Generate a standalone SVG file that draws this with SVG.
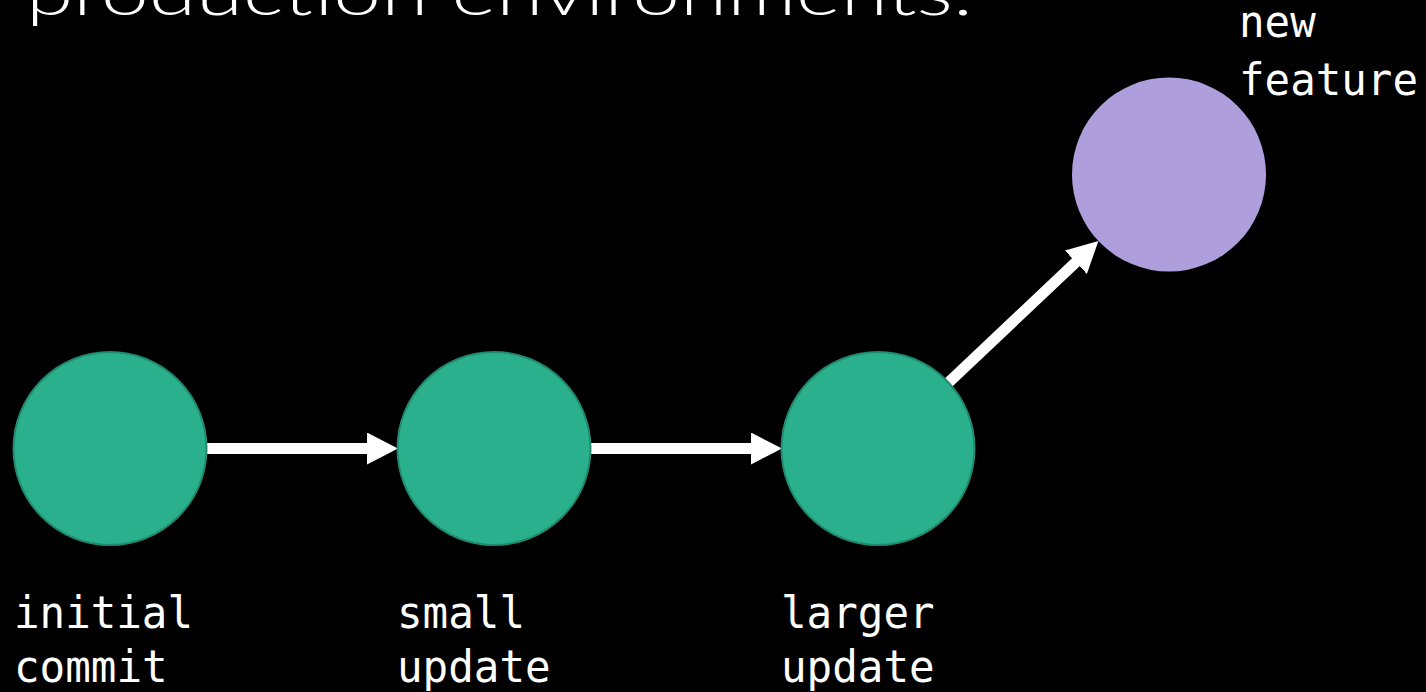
<svg xmlns="http://www.w3.org/2000/svg" width="1426" height="692" viewBox="0 0 1426 692">
<style>
.bg{fill:#000}
.title{fill:#fff;font-family:Lato,"Open Sans","Liberation Sans",sans-serif;font-weight:300;font-size:64px}
.lbl{fill:#fff;font-family:"DejaVu Sans Mono","Liberation Mono",monospace;font-size:44px}
.green{fill:#2bb08e;stroke:#1f8a6e;stroke-width:2}
.purple{fill:#ae9fdc}
.conn{stroke:#fff;stroke-width:11;fill:none}
</style>
<defs>
<marker id="ah" markerUnits="userSpaceOnUse" markerWidth="32" markerHeight="32" refX="1" refY="16" orient="auto" viewBox="0 0 32 32">
<path d="M0,0 L31,16 L0,32 Z" fill="#fff"/>
</marker>
</defs>
<rect class="bg" x="0" y="0" width="1426" height="692"/>
<text class="title" x="26" y="15" textLength="947" lengthAdjust="spacingAndGlyphs">production environments.</text>
<g id="connectors">
<line class="conn" x1="207" y1="448.5" x2="368" y2="448.5" marker-end="url(#ah)"/>
<line class="conn" x1="591" y1="448.5" x2="752" y2="448.5" marker-end="url(#ah)"/>
<line class="conn" x1="948.6" y1="382.4" x2="1076.6" y2="261.6" marker-end="url(#ah)"/>
</g>
<g id="node-initial">
<circle class="green" cx="110" cy="448.5" r="96.5"/>
<text class="lbl" x="14" y="628" textLength="179" lengthAdjust="spacingAndGlyphs">initial</text>
<text class="lbl" x="14" y="682" textLength="153.6" lengthAdjust="spacingAndGlyphs">commit</text>
</g>
<g id="node-small">
<circle class="green" cx="494" cy="448.5" r="96.5"/>
<text class="lbl" x="397" y="628" textLength="128" lengthAdjust="spacingAndGlyphs">small</text>
<text class="lbl" x="397" y="682" textLength="153.6" lengthAdjust="spacingAndGlyphs">update</text>
</g>
<g id="node-larger">
<circle class="green" cx="878" cy="448.5" r="96.5"/>
<text class="lbl" x="781" y="628" textLength="153.6" lengthAdjust="spacingAndGlyphs">larger</text>
<text class="lbl" x="781" y="682" textLength="153.6" lengthAdjust="spacingAndGlyphs">update</text>
</g>
<g id="node-feature">
<circle class="purple" cx="1169" cy="174.5" r="97"/>
<text class="lbl" x="1239" y="37" textLength="76.8" lengthAdjust="spacingAndGlyphs">new</text>
<text class="lbl" x="1239" y="95" textLength="179" lengthAdjust="spacingAndGlyphs">feature</text>
</g>
</svg>
